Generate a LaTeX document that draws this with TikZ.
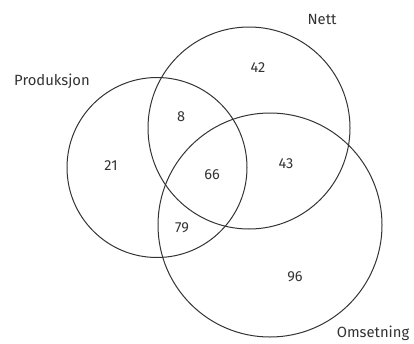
\documentclass[tikz,border=0pt]{standalone}
\usepackage{fontspec}
\setmainfont{Fira Sans}
\begin{document}
\begin{tikzpicture}[x=1pt,y=-1pt,
  setc/.style={draw=black!80,line width=1pt,circle,inner sep=0pt},
  lbl/.style={font=\fontsize{14.8}{17}\selectfont,text=black!80,inner sep=0pt},
  num/.style={font=\fontsize{14.5}{17}\selectfont,text=black!80,inner sep=0pt}]
\useasboundingbox (0,0) rectangle (414,343);
\node[setc,minimum size=180pt] (P) at (157,167.5) {};
\node[setc,minimum size=202pt] (N) at (249,128) {};
\node[setc,minimum size=224pt] (O) at (270,225) {};
\node[lbl] (lP) at (52,81) {Produksjon};
\node[lbl] (lN) at (322,19) {Nett};
\node[lbl] (lO) at (373,333) {Omsetning};
\node[num] (n42) at (258,68) {42};
\node[num] (n8) at (181,117) {8};
\node[num] (n21) at (111,166) {21};
\node[num] (n66) at (212,175) {66};
\node[num] (n43) at (286,164) {43};
\node[num] (n79) at (182,228) {79};
\node[num] (n96) at (295,277) {96};
\end{tikzpicture}
\end{document}
